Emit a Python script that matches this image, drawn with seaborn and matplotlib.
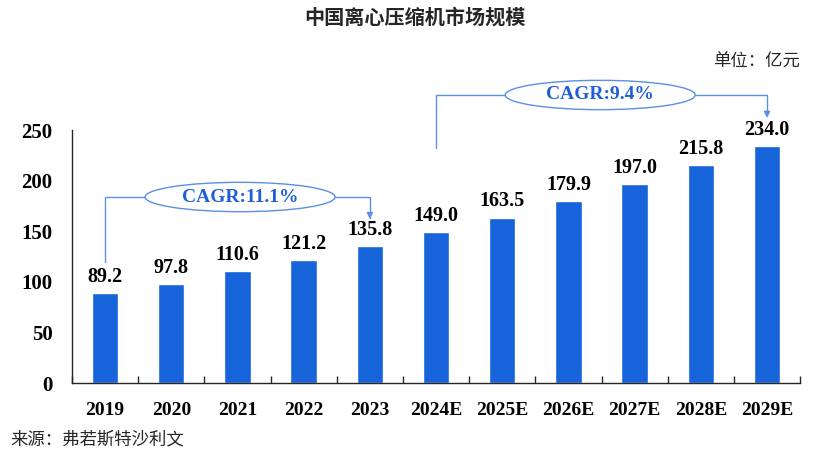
import matplotlib
matplotlib.use("Agg")
import matplotlib.pyplot as plt
import matplotlib.ticker as ticker
from matplotlib.patches import Ellipse
import seaborn as sns
import pandas as pd

# Dados
anos = ["2019", "2020", "2021", "2022", "2023", "2024E",
        "2025E", "2026E", "2027E", "2028E", "2029E"]
valores = [89.2, 97.8, 110.6, 121.2, 135.8, 149.0,
           163.5, 179.9, 197.0, 215.8, 234.0]
yticks = [0, 50, 100, 150, 200, 250]
titulo = "中国离心压缩机市场规模"
unidade = "单位：亿元"
fonte = "来源：弗若斯特沙利文"
cagr1 = "CAGR:11.1%"
cagr2 = "CAGR:9.4%"

df = pd.DataFrame({"ano": anos, "valor": valores})

# Tema
sns.set_theme(style="white")
plt.rcParams["font.family"] = ["Liberation Serif", "Noto Sans CJK SC"]

azul = "#1764DA"
azul_linha = "#5B8FE3"
azul_texto = "#1F5FD6"
cjk = ["Noto Sans CJK SC", "DejaVu Sans"]

fig = plt.figure(figsize=(8.3, 4.53), dpi=100)
ax = fig.add_axes([0.0867, 0.1545, 0.8773, 0.5585])

sns.barplot(data=df, x="ano", y="valor", color=azul, width=0.4,
            saturation=1, ax=ax)

for i, v in enumerate(valores):
    ax.text(i, v + 6, f"{v:.1f}", ha="center", va="bottom",
            fontsize=14.5, fontweight="bold", color="black")

ax.set_xlim(-0.5, len(anos) - 0.5)
ax.set_ylim(0, 250)
ax.set_yticks(yticks)
ax.set_xlabel("")
ax.set_ylabel("")

# Spines
for s in ["top", "right"]:
    ax.spines[s].set_visible(False)
for s in ["left", "bottom"]:
    ax.spines[s].set_color("0.15")
    ax.spines[s].set_linewidth(1.0)

# Ticks
ax.tick_params(axis="y", direction="in", length=5, width=1, color="0.15",
               labelsize=15, pad=14)
ax.tick_params(axis="x", which="major", length=0, labelsize=14, pad=14)
ax.xaxis.set_minor_locator(ticker.FixedLocator([i + 0.5 for i in range(-1, len(anos))]))
ax.tick_params(axis="x", which="minor", direction="in", length=5, width=1,
               color="0.15", bottom=True)
for lbl in ax.get_xticklabels() + ax.get_yticklabels():
    lbl.set_fontweight("bold")
    lbl.set_color("black")

# CAGR 2019-2023
ax.plot([0, 0, 1.45], [119.5, 183.8, 183.8], color=azul_linha, lw=1,
        clip_on=False)
ax.add_patch(Ellipse((2.04, 183.8), 2.87, 29, facecolor="white",
                     edgecolor=azul_linha, lw=1, clip_on=False, zorder=3))
ax.annotate("", xy=(4, 162), xytext=(3.47, 183.8),
            arrowprops=dict(arrowstyle="-|>", color=azul_linha, lw=1,
                            mutation_scale=9, shrinkA=0, shrinkB=0,
                            connectionstyle="angle,angleA=0,angleB=90,rad=0"),
            annotation_clip=False)
ax.text(2.04, 183.8, cagr1, ha="center", va="center", fontsize=14,
        fontweight="bold", color=azul_texto, zorder=4)

# CAGR 2024-2029
ax.plot([5, 5, 6.05], [232, 284.6, 284.6], color=azul_linha, lw=1,
        clip_on=False)
ax.add_patch(Ellipse((7.48, 284.6), 2.87, 29, facecolor="white",
                     edgecolor=azul_linha, lw=1, clip_on=False, zorder=3))
ax.annotate("", xy=(10, 262), xytext=(8.91, 284.6),
            arrowprops=dict(arrowstyle="-|>", color=azul_linha, lw=1,
                            mutation_scale=9, shrinkA=0, shrinkB=0,
                            connectionstyle="angle,angleA=0,angleB=90,rad=0"),
            annotation_clip=False)
ax.text(7.48, 284.6, cagr2, ha="center", va="center", fontsize=14,
        fontweight="bold", color=azul_texto, zorder=4)

# Textos
fig.text(0.5, 0.962, titulo, ha="center", va="center", fontsize=14.5,
         fontweight="bold", family=cjk)
fig.text(0.964, 0.863, unidade, ha="right", va="center", fontsize=12.5,
         family=cjk)
fig.text(0.012, 0.03, fonte, ha="left", va="center", fontsize=12.5,
         family=cjk)

fig.savefig("out.png", dpi=100, facecolor="white")
